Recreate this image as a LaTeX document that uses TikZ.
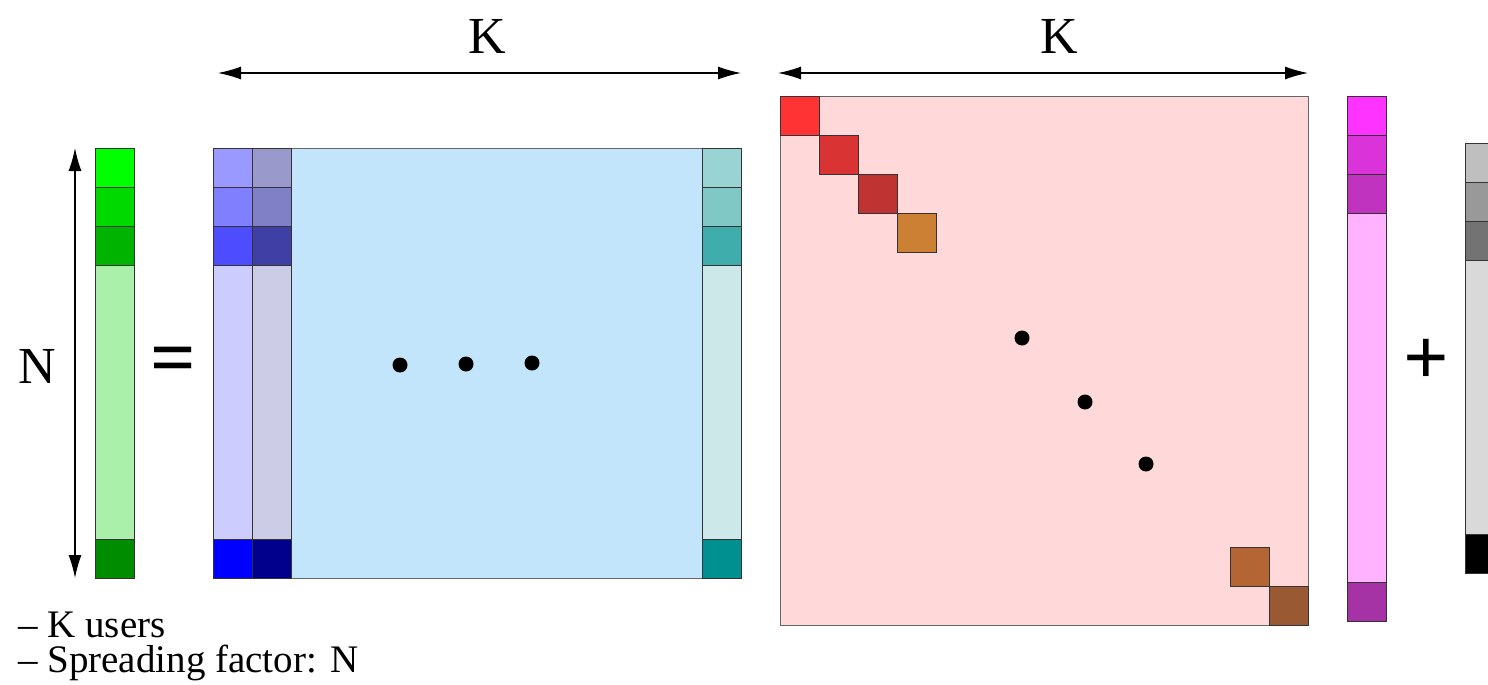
\documentclass[tikz,border=0pt]{standalone}
\usepackage{fontspec}
\setmainfont{Liberation Serif}
\usetikzlibrary{arrows.meta}

% colours of the cells
\definecolor{gA}{HTML}{00FF00}\definecolor{gB}{HTML}{00D900}\definecolor{gC}{HTML}{00B300}
\definecolor{gL}{HTML}{AAF0AA}\definecolor{gD}{HTML}{008C00}
\definecolor{bA}{HTML}{9999FF}\definecolor{bB}{HTML}{8080FF}\definecolor{bC}{HTML}{4D4DFF}
\definecolor{bL}{HTML}{CCCCFF}\definecolor{bD}{HTML}{0000FF}
\definecolor{nA}{HTML}{9999CC}\definecolor{nB}{HTML}{8080C6}\definecolor{nC}{HTML}{3F3FA6}
\definecolor{nL}{HTML}{CCCCE6}\definecolor{nD}{HTML}{00008C}
\definecolor{tA}{HTML}{99D3D3}\definecolor{tB}{HTML}{80C8C6}\definecolor{tC}{HTML}{40ADAD}
\definecolor{tL}{HTML}{CCE8E8}\definecolor{tD}{HTML}{009090}
\definecolor{mA}{HTML}{FF33FF}\definecolor{mB}{HTML}{D933D9}\definecolor{mC}{HTML}{BF33BF}
\definecolor{mL}{HTML}{FFB3FF}\definecolor{mD}{HTML}{A633A6}
\definecolor{kA}{HTML}{BFBFBF}\definecolor{kB}{HTML}{999999}\definecolor{kC}{HTML}{737373}
\definecolor{kL}{HTML}{D9D9D9}\definecolor{kD}{HTML}{000000}
\definecolor{skyfill}{HTML}{C2E5FC}
\definecolor{rosefill}{HTML}{FFD9D9}
\definecolor{dA}{HTML}{FF3333}\definecolor{dB}{HTML}{D93333}\definecolor{dC}{HTML}{BF3333}
\definecolor{dE}{HTML}{CC8033}\definecolor{dF}{HTML}{B36633}\definecolor{dG}{HTML}{995933}

\tikzset{
  cell/.style={draw=black!80, line width=0.9pt, inner sep=0pt, outer sep=0pt,
    minimum width=39pt, minimum height=39pt, anchor=north west},
  block/.style={draw=black!60, line width=0.9pt, inner sep=0pt, outer sep=0pt, anchor=north west},
  dimarrow/.style={line width=1.2pt, {Latex[length=23pt,width=13pt]}-{Latex[length=23pt,width=13pt]}},
  bigdot/.style={circle, fill=black, inner sep=0pt, minimum size=15pt},
  label/.style={font=\fontsize{52}{60}\selectfont, inner sep=0pt},
  sign/.style={font=\fontsize{80}{88}\selectfont\bfseries, inner sep=0pt, anchor=base},
  note/.style={font=\fontsize{39}{35}\selectfont, inner sep=0pt, align=left, anchor=south west}
}

% a column vector: three small cells, one long cell, one small cell
% #1 name, #2 x, #3 top y, #4-#8 colours, #9 height of the long cell
\newcommand\stripe[9]{%
  \node[cell, fill=#4] (#1-1) at (#2,#3) {};
  \node[cell, fill=#5] (#1-2) at (#1-1.south west) {};
  \node[cell, fill=#6] (#1-3) at (#1-2.south west) {};
  \node[cell, fill=#7, minimum height=#9] (#1-4) at (#1-3.south west) {};
  \node[cell, fill=#8] (#1-5) at (#1-4.south west) {};
}

\begin{document}
\begin{tikzpicture}[x=1pt, y=-1pt]
\useasboundingbox (0,0) rectangle (1488,685);
\clip (0,0) rectangle (1488,685);

% received vector
\stripe{y}{95}{148}{gA}{gB}{gC}{gL}{gD}{274pt}
\coordinate (nTop) at (75,148);
\coordinate (nBot) at (75,578);
\draw[dimarrow] (nTop) -- (nBot);
\node[label] (nLab) at (37,366) {N};
\node[sign] (eq) at (173,384) {=};

% spreading code matrix
\node[block, fill=skyfill, minimum width=528pt, minimum height=430pt] (S) at (213,148) {};
\stripe{s1}{213}{148}{bA}{bB}{bC}{bL}{bD}{274pt}
\stripe{s2}{252}{148}{nA}{nB}{nC}{nL}{nD}{274pt}
\stripe{sK}{702}{148}{tA}{tB}{tC}{tL}{tD}{274pt}
\node[bigdot] (h1) at (400,365) {};
\node[bigdot] (h2) at (466,364) {};
\node[bigdot] (h3) at (532,363) {};
\coordinate (kL1) at (218,73);
\coordinate (kL2) at (741,73);
\draw[dimarrow] (kL1) -- (kL2);
\node[label] (kLab1) at (487,36) {K};

% diagonal amplitude matrix
\node[block, fill=rosefill, minimum width=528pt, minimum height=529pt] (A) at (780,96) {};
\node[cell, fill=dA] (a1) at (780,96) {};
\node[cell, fill=dB] (a2) at (a1.south east) {};
\node[cell, fill=dC] (a3) at (a2.south east) {};
\node[cell, fill=dE] (a4) at (a3.south east) {};
\node[cell, fill=dF] (a5) at (1230,547) {};
\node[cell, fill=dG] (a6) at (a5.south east) {};
\node[bigdot] (v1) at (1022,338) {};
\node[bigdot] (v2) at (1085,402) {};
\node[bigdot] (v3) at (1146,464) {};
\coordinate (kR1) at (778,73);
\coordinate (kR2) at (1308,73);
\draw[dimarrow] (kR1) -- (kR2);
\node[label] (kLab2) at (1059,36) {K};

% symbol vector
\stripe{b}{1347}{96}{mA}{mB}{mC}{mL}{mD}{369pt}
\node[sign] (plus) at (1426,384) {+};

% noise vector
\stripe{w}{1465}{143}{kA}{kB}{kC}{kL}{kD}{274pt}

% legend
\node[note] (legend) at (18,681) {– K users\\– Spreading factor: N};
\end{tikzpicture}
\end{document}
